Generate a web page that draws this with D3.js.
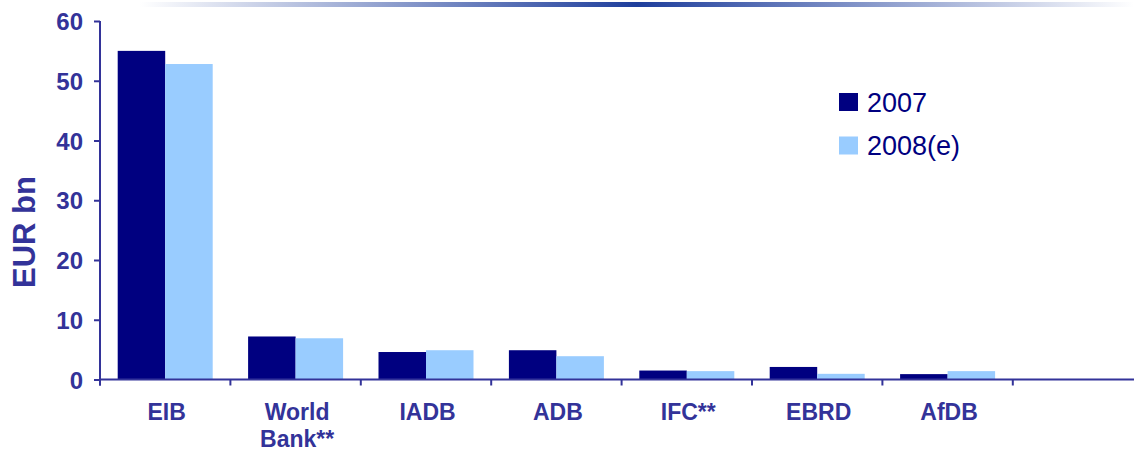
<!DOCTYPE html>
<html><head><meta charset="utf-8">
<script src="https://cdn.jsdelivr.net/npm/d3@7"></script>
<style>
html,body{margin:0;padding:0;background:#fff;}
svg{display:block;font-family:"Liberation Sans",Arial,sans-serif;}
</style></head>
<body>
<svg id="c" width="1134" height="451"></svg>
<script>
const categories = ["EIB", "World Bank**", "IADB", "ADB", "IFC**", "EBRD", "AfDB", ""];
const series = ["2007", "2008(e)"];
const values2007 = [55, 7.2, 4.6, 4.9, 1.5, 2.1, 0.9];
const values2008 = [52.8, 6.9, 4.9, 3.9, 1.4, 0.95, 1.4];
const yTicks = [0, 10, 20, 30, 40, 50, 60];
const colors = ["#000080", "#99CCFF"];
const axisColor = "#333399";

const svg = d3.select("#c");

// top gradient rule
const defs = svg.append("defs");
const g = defs.append("linearGradient").attr("id", "topg").attr("x1", "0%").attr("x2", "100%");
g.append("stop").attr("offset", "0%").attr("stop-color", "#ffffff");
g.append("stop").attr("offset", "50%").attr("stop-color", "#1e3e9c");
g.append("stop").attr("offset", "100%").attr("stop-color", "#ffffff");
svg.append("rect").attr("x", 140).attr("y", 2).attr("width", 994).attr("height", 5).attr("fill", "url(#topg)");

const x = d3.scaleBand().domain(categories).range([100, 100 + 8 * 130.4]);
const x1 = d3.scaleBand().domain(series).range([17.7, 112.7]);
const y = d3.scaleLinear().domain([0, 60]).range([379.5, 21]);

// bars
const data = categories.slice(0, values2007.length).map((c, i) => ({c, vals: [values2007[i], values2008[i]]}));
const grp = svg.append("g").selectAll("g").data(data).join("g")
  .attr("transform", d => `translate(${x(d.c)},0)`);
grp.selectAll("rect").data(d => d.vals.map((v, j) => ({v, s: series[j], j})))
  .join("rect")
  .attr("x", d => x1(d.s))
  .attr("width", x1.bandwidth())
  .attr("y", d => y(d.v))
  .attr("height", d => y(0) - y(d.v))
  .attr("fill", d => colors[d.j]);

// y axis
const yAxis = svg.append("g").attr("transform", "translate(100,0)")
  .call(d3.axisLeft(y).tickValues(yTicks).tickSize(6).tickPadding(11).tickSizeOuter(0));
yAxis.select(".domain").attr("stroke", axisColor).attr("stroke-width", 2).attr("d", `M0,${y(60)}V${y(0) + 6}`);
yAxis.selectAll(".tick line").attr("stroke", axisColor).attr("stroke-width", 2);
yAxis.selectAll(".tick text").attr("fill", axisColor).attr("font-size", 24).attr("font-weight", "bold")
  .attr("dy", "0.36em")
  .attr("font-family", "Liberation Sans, Arial, sans-serif");

// x axis
svg.append("line").attr("x1", 99).attr("x2", 1134).attr("y1", y(0)).attr("y2", y(0))
  .attr("stroke", axisColor).attr("stroke-width", 2);
svg.append("g").selectAll("line").data(categories).join("line")
  .attr("x1", d => x(d)).attr("x2", d => x(d))
  .attr("y1", y(0)).attr("y2", y(0) + 6)
  .attr("stroke", axisColor).attr("stroke-width", 2);

// category labels
const lab = svg.append("g").selectAll("text").data(categories).join("text")
  .attr("x", d => x(d) + x.bandwidth() / 2 + 1.5)
  .attr("y", 420)
  .attr("text-anchor", "middle")
  .attr("fill", axisColor).attr("font-size", 23).attr("font-weight", "bold");
lab.each(function(d) {
  const parts = d === "World Bank**" ? ["World", "Bank**"] : [d];
  d3.select(this).selectAll("tspan").data(parts).join("tspan")
    .attr("x", x(d) + x.bandwidth() / 2 + 1.5)
    .attr("dy", (p, i) => i === 0 ? 0 : 27)
    .text(p => p);
});

// y title
svg.append("text").attr("transform", "translate(35,232) rotate(-90)")
  .attr("text-anchor", "middle").attr("fill", axisColor)
  .attr("font-size", 31).attr("font-weight", "bold").text("EUR bn");

// legend
const leg = svg.append("g").selectAll("g").data(series).join("g")
  .attr("transform", (d, i) => `translate(839,${93 + i * 43.5})`);
leg.append("rect").attr("width", 19).attr("height", 18).attr("fill", (d, i) => colors[i]);
leg.append("text").attr("x", 28).attr("y", 18.5).attr("font-size", 27)
  .attr("fill", "#000080").text(d => d);
</script>
</body></html>
